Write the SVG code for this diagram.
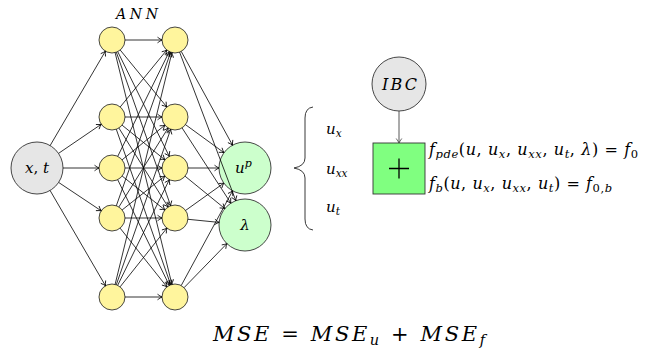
<svg xmlns="http://www.w3.org/2000/svg" width="651" height="356" viewBox="0 0 651 356">
<style>
.e{stroke:#000;stroke-width:0.8;fill:none}
.n{stroke:#333;stroke-width:0.9}
.gray{fill:#e6e6e6}
.yel{fill:#fff59d}
.grn{fill:#ccffcc}
.t{font-family:"DejaVu Serif","Liberation Serif",serif;font-style:italic;fill:#000}
.r{font-style:normal}
</style>
<defs>
<marker id="ah" markerUnits="userSpaceOnUse" orient="auto" refX="0" refY="0" markerWidth="8" markerHeight="8" style="overflow:visible">
<path d="M-4.5,-2.8 Q-1.7,-0.7 0,0 Q-1.7,0.7 -4.5,2.8" fill="none" stroke="#000" stroke-width="0.8"/>
</marker>
<marker id="ahg" markerUnits="userSpaceOnUse" orient="auto" refX="0" refY="0" markerWidth="8" markerHeight="8" style="overflow:visible">
<path d="M-4.5,-2.8 Q-1.7,-0.7 0,0 Q-1.7,0.7 -4.5,2.8" fill="none" stroke="#444" stroke-width="0.8"/>
</marker>
</defs>
<rect width="651" height="356" fill="#fff"/>

<text class="t" x="116" y="19" font-size="14" textLength="42" lengthAdjust="spacing">ANN</text>

<g id="in"><circle class="n gray" cx="37" cy="168" r="26"/><text class="t" x="37" y="173" font-size="15" text-anchor="middle">x<tspan class="r">,</tspan> t</text></g>
<g id="h1a"><circle class="n yel" cx="112" cy="40" r="13"/></g>
<g id="h1b"><circle class="n yel" cx="112" cy="117" r="13"/></g>
<g id="h1c"><circle class="n yel" cx="112" cy="168" r="13"/></g>
<g id="h1d"><circle class="n yel" cx="112" cy="218" r="13"/></g>
<g id="h1e"><circle class="n yel" cx="112" cy="297" r="13"/></g>
<g id="h2a"><circle class="n yel" cx="175" cy="40" r="13"/></g>
<g id="h2b"><circle class="n yel" cx="175" cy="117" r="13"/></g>
<g id="h2c"><circle class="n yel" cx="175" cy="168" r="13"/></g>
<g id="h2d"><circle class="n yel" cx="175" cy="218" r="13"/></g>
<g id="h2e"><circle class="n yel" cx="175" cy="297" r="13"/></g>
<g id="up"><circle class="n grn" cx="245" cy="168" r="26"/><text class="t" x="235" y="173" font-size="15">u<tspan dy="-6" font-size="11">p</tspan></text></g>
<g id="lam"><circle class="n grn" cx="245" cy="225" r="26"/><text class="t" x="245" y="230" font-size="15" text-anchor="middle">λ</text></g>

<g id="ibc"><circle class="n gray" cx="399" cy="84" r="27"/><text class="t" x="382" y="89.5" font-size="16" textLength="35" lengthAdjust="spacing">IBC</text></g>
<g id="box"><rect x="373" y="143" width="52" height="51" fill="#80ff80" stroke="#333" stroke-width="0.9"/><path d="M389,168.5 H409 M399,158.5 V178.5" stroke="#000" stroke-width="1.3"/></g>

<g id="edges">
<line class="e" x1="50.1" y1="145.6" x2="105.4" y2="51.2" marker-end="url(#ah)"/>
<line class="e" x1="58.5" y1="153.4" x2="101.2" y2="124.3" marker-end="url(#ah)"/>
<line class="e" x1="63" y1="168" x2="99" y2="168" marker-end="url(#ah)"/>
<line class="e" x1="58.6" y1="182.4" x2="101.2" y2="210.8" marker-end="url(#ah)"/>
<line class="e" x1="50.1" y1="190.5" x2="105.5" y2="285.8" marker-end="url(#ah)"/>

<line class="e" x1="125" y1="40" x2="162" y2="40" marker-end="url(#ah)"/>
<line class="e" x1="120.23" y1="50.06" x2="166.77" y2="106.94" marker-end="url(#ah)"/>
<line class="e" x1="117.74" y1="51.66" x2="169.26" y2="156.34" marker-end="url(#ah)"/>
<line class="e" x1="116.34" y1="52.26" x2="170.66" y2="205.74" marker-end="url(#ah)"/>
<line class="e" x1="115.10" y1="52.63" x2="171.90" y2="284.37" marker-end="url(#ah)"/>

<line class="e" x1="120.23" y1="106.94" x2="166.77" y2="50.06" marker-end="url(#ah)"/>
<line class="e" x1="125" y1="117" x2="162" y2="117" marker-end="url(#ah)"/>
<line class="e" x1="122.10" y1="125.18" x2="164.90" y2="159.82" marker-end="url(#ah)"/>
<line class="e" x1="118.88" y1="128.03" x2="168.12" y2="206.97" marker-end="url(#ah)"/>
<line class="e" x1="116.29" y1="129.27" x2="170.71" y2="284.73" marker-end="url(#ah)"/>

<line class="e" x1="117.74" y1="156.34" x2="169.26" y2="51.66" marker-end="url(#ah)"/>
<line class="e" x1="122.10" y1="159.82" x2="164.90" y2="125.18" marker-end="url(#ah)"/>
<line class="e" x1="125" y1="168" x2="162" y2="168" marker-end="url(#ah)"/>
<line class="e" x1="122.18" y1="176.08" x2="164.82" y2="209.92" marker-end="url(#ah)"/>
<line class="e" x1="117.70" y1="179.68" x2="169.30" y2="285.32" marker-end="url(#ah)"/>

<line class="e" x1="116.34" y1="205.74" x2="170.66" y2="52.26" marker-end="url(#ah)"/>
<line class="e" x1="118.88" y1="206.97" x2="168.12" y2="128.03" marker-end="url(#ah)"/>
<line class="e" x1="122.18" y1="209.92" x2="164.82" y2="176.08" marker-end="url(#ah)"/>
<line class="e" x1="125" y1="218" x2="162" y2="218" marker-end="url(#ah)"/>
<line class="e" x1="120.11" y1="228.16" x2="166.89" y2="286.84" marker-end="url(#ah)"/>

<line class="e" x1="115.10" y1="284.37" x2="171.90" y2="52.63" marker-end="url(#ah)"/>
<line class="e" x1="116.29" y1="284.73" x2="170.71" y2="129.27" marker-end="url(#ah)"/>
<line class="e" x1="117.70" y1="285.32" x2="169.30" y2="179.68" marker-end="url(#ah)"/>
<line class="e" x1="120.11" y1="286.84" x2="166.89" y2="228.16" marker-end="url(#ah)"/>
<line class="e" x1="125" y1="297" x2="162" y2="297" marker-end="url(#ah)"/>

<line class="e" x1="181.24" y1="51.41" x2="232.52" y2="145.19" marker-end="url(#ah)"/>
<line class="e" x1="185.51" y1="124.66" x2="223.99" y2="152.69" marker-end="url(#ah)"/>
<line class="e" x1="188" y1="168" x2="219" y2="168" marker-end="url(#ah)"/>
<line class="e" x1="185.58" y1="210.44" x2="223.84" y2="183.11" marker-end="url(#ah)"/>
<line class="e" x1="181.20" y1="285.57" x2="232.60" y2="190.85" marker-end="url(#ah)"/>

<line class="e" x1="179.60" y1="52.16" x2="235.80" y2="200.68" marker-end="url(#ah)"/>
<line class="e" x1="182.07" y1="127.91" x2="230.86" y2="203.18" marker-end="url(#ah)"/>
<line class="e" x1="185.08" y1="176.21" x2="224.84" y2="208.58" marker-end="url(#ah)"/>
<line class="e" x1="187.94" y1="219.29" x2="219.13" y2="222.41" marker-end="url(#ah)"/>
<line class="e" x1="184.06" y1="287.68" x2="226.88" y2="243.64" marker-end="url(#ah)"/>

<line x1="399" y1="111" x2="399" y2="143" stroke="#444" stroke-width="0.9" marker-end="url(#ahg)"/>
</g>

<path d="M313,107 Q305,108 305,118 V158 Q305,166 294,168 Q305,170 305,178 V219 Q305,229 313,230" fill="none" stroke="#222" stroke-width="0.9"/>

<text class="t" x="326" y="134" font-size="15">u<tspan dy="3" font-size="10.5">x</tspan></text>
<text class="t" x="326" y="174" font-size="15">u<tspan dy="3" font-size="10.5">xx</tspan></text>
<text class="t" x="326" y="212" font-size="15">u<tspan dy="3" font-size="10.5">t</tspan></text>

<text class="t" x="429" y="155" font-size="16" textLength="209" lengthAdjust="spacing">f<tspan dy="3" font-size="11.5">pde</tspan><tspan dy="-3" class="r">(</tspan>u<tspan class="r">, </tspan>u<tspan dy="3" font-size="11.5">x</tspan><tspan dy="-3" class="r">, </tspan>u<tspan dy="3" font-size="11.5">xx</tspan><tspan dy="-3" class="r">, </tspan>u<tspan dy="3" font-size="11.5">t</tspan><tspan dy="-3" class="r">, </tspan>λ<tspan class="r">) = </tspan>f<tspan dy="3" font-size="11.5" class="r">0</tspan></text>
<text class="t" x="429" y="189" font-size="16" textLength="183" lengthAdjust="spacing">f<tspan dy="3" font-size="11.5">b</tspan><tspan dy="-3" class="r">(</tspan>u<tspan class="r">, </tspan>u<tspan dy="3" font-size="11.5">x</tspan><tspan dy="-3" class="r">, </tspan>u<tspan dy="3" font-size="11.5">xx</tspan><tspan dy="-3" class="r">, </tspan>u<tspan dy="3" font-size="11.5">t</tspan><tspan dy="-3" class="r">) = </tspan>f<tspan dy="3" font-size="11.5"><tspan class="r">0,</tspan>b</tspan></text>

<text class="t" x="213" y="341" font-size="21" textLength="272" lengthAdjust="spacing">MSE <tspan class="r">=</tspan> MSE<tspan dy="4" font-size="14.5">u</tspan><tspan dy="-4" class="r"> + </tspan>MSE<tspan dy="4" font-size="14.5">f</tspan></text>
</svg>
